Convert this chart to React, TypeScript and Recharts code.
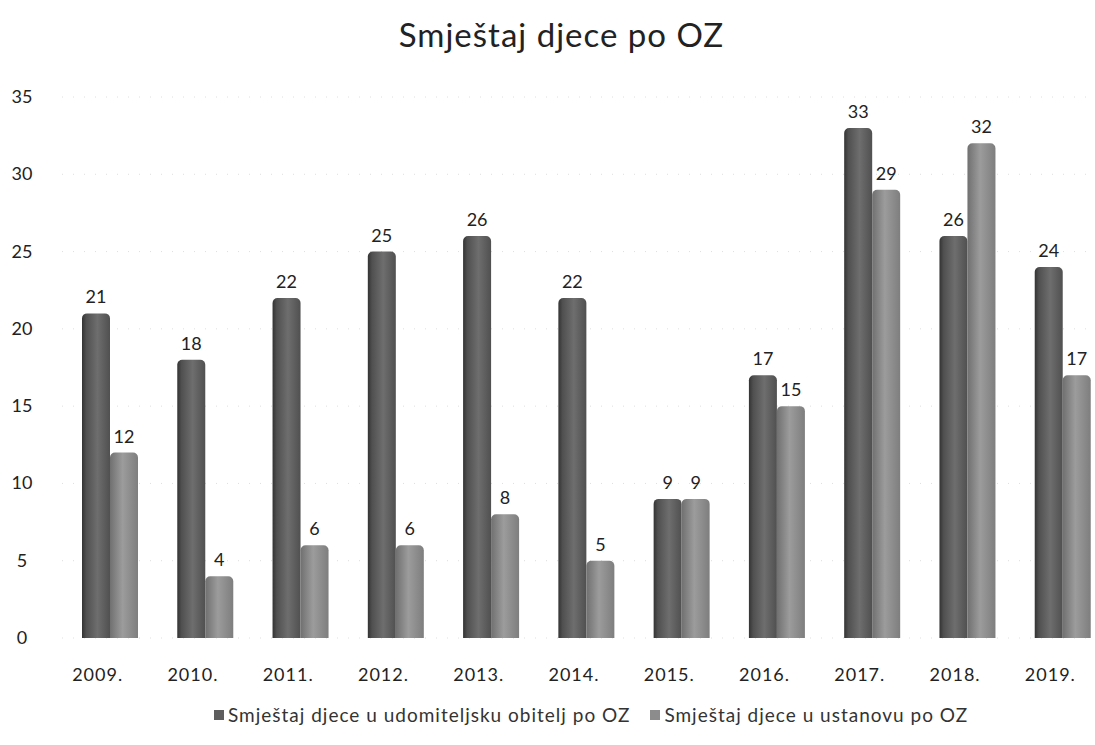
import { BarChart, Bar, XAxis, YAxis, CartesianGrid, Legend, LabelList } from "recharts"

const years = ["2009.", "2010.", "2011.", "2012.", "2013.", "2014.", "2015.", "2016.", "2017.", "2018.", "2019."]
const udomiteljska = [21, 18, 22, 25, 26, 22, 9, 17, 33, 26, 24]
const ustanova = [12, 4, 6, 6, 8, 5, 9, 15, 29, 32, 17]
const yTicks = [0, 5, 10, 15, 20, 25, 30, 35]

const seriesNames = {
    udomiteljska: "Smještaj djece u udomiteljsku obitelj po OZ",
    ustanova: "Smještaj djece u ustanovu po OZ",
}

const data = years.map((year, i) => ({
    year,
    udomiteljska: udomiteljska[i],
    ustanova: ustanova[i],
}))

const FONT = "Lato, 'Open Sans', sans-serif"

const YTick = ({ y, payload }: any) => (
    <text x={22} y={y} dy={6} textAnchor="middle" fontFamily={FONT} fontSize={18} fill="#222">
        {payload.value}
    </text>
)

const XTick = ({ x, y, payload }: any) => (
    <text x={x - 12} y={y} dy={35} textAnchor="middle" fontFamily={FONT} fontSize={18} letterSpacing={1} fill="#222">
        {payload.value}
    </text>
)

const LegendContent = () => (
    <div style={{ display: "flex", justifyContent: "flex-start", paddingLeft: 214, gap: 20, fontFamily: FONT, fontSize: 19, letterSpacing: 1, color: "#333" }}>
        {[
            { name: seriesNames.udomiteljska, color: "#5e5e5e" },
            { name: seriesNames.ustanova, color: "#8c8c8c" },
        ].map((item) => (
            <div key={item.name} style={{ display: "flex", alignItems: "center" }}>
                <span style={{ width: 10, height: 10, background: item.color, display: "inline-block", marginRight: 4 }} />
                <span>{item.name}</span>
            </div>
        ))}
    </div>
)

export default function App() {
    return (
        <div style={{ position: "absolute", left: 0, top: 0, width: 1095, height: 745, overflow: "hidden", background: "#fff" }}>
            <div style={{ position: "absolute", top: 14, left: 14, width: 1095, textAlign: "center", fontFamily: FONT, fontSize: 33, letterSpacing: 1, color: "#222" }}>
                Smještaj djece po OZ
            </div>
            <BarChart
                width={1110}
                height={745}
                data={data}
                margin={{ top: 97, right: 0, left: 0, bottom: 12 }}
                barGap={0}
                barCategoryGap="0%"
            >
                <defs>
                    <linearGradient id="gDark" x1="0" y1="0" x2="1" y2="0">
                        <stop offset="0%" stopColor="#333333" />
                        <stop offset="15%" stopColor="#505050" />
                        <stop offset="55%" stopColor="#6e6e6e" />
                        <stop offset="100%" stopColor="#505050" />
                    </linearGradient>
                    <linearGradient id="gLight" x1="0" y1="0" x2="1" y2="0">
                        <stop offset="0%" stopColor="#707070" />
                        <stop offset="45%" stopColor="#9c9c9c" />
                        <stop offset="100%" stopColor="#7e7e7e" />
                    </linearGradient>
                </defs>
                <CartesianGrid horizontal vertical={false} stroke="#dedede" strokeDasharray="1 10" />
                <XAxis dataKey="year" axisLine={false} tickLine={false} height={65} tick={<XTick />} interval={0} />
                <YAxis
                    domain={[0, 35]}
                    ticks={yTicks}
                    axisLine={false}
                    tickLine={false}
                    width={62}
                    tick={<YTick />}
                />
                <Legend verticalAlign="bottom" height={30} content={<LegendContent />} />
                <Bar dataKey="udomiteljska" name={seriesNames.udomiteljska} fill="url(#gDark)" barSize={28} radius={[5, 5, 0, 0]} isAnimationActive={false}>
                    <LabelList dataKey="udomiteljska" position="top" offset={10} fontFamily={FONT} fontSize={18} fill="#222" />
                </Bar>
                <Bar dataKey="ustanova" name={seriesNames.ustanova} fill="url(#gLight)" barSize={28} radius={[5, 5, 0, 0]} isAnimationActive={false}>
                    <LabelList dataKey="ustanova" position="top" offset={10} fontFamily={FONT} fontSize={18} fill="#222" />
                </Bar>
            </BarChart>
        </div>
    )
}
